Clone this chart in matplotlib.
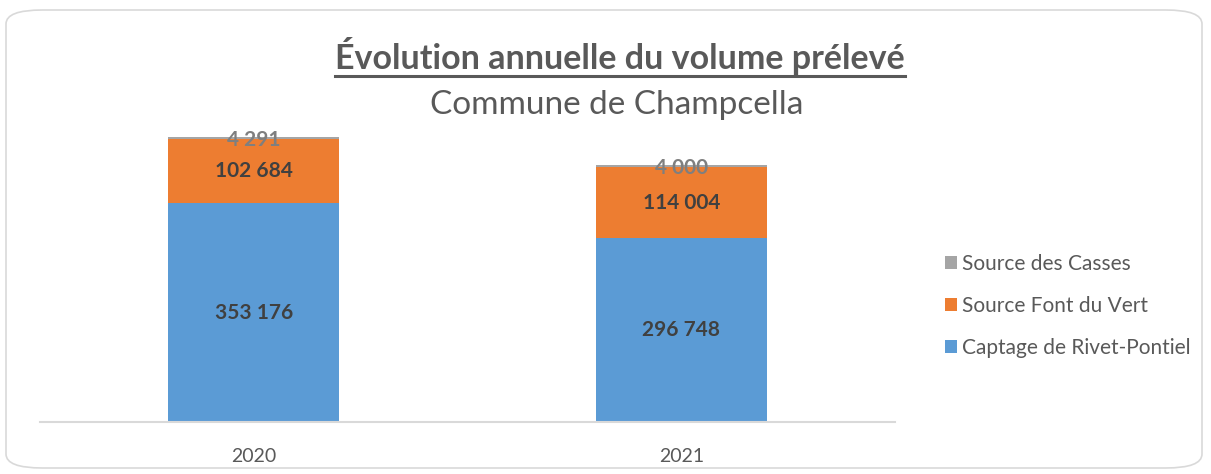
import matplotlib.pyplot as plt
from matplotlib.patches import FancyBboxPatch
from matplotlib.lines import Line2D

# Données
annees = ["2020", "2021"]
rivet_pontiel = [353176, 296748]
font_du_vert = [102684, 114004]
casses = [4291, 4000]

series = [
    ("Captage de Rivet-Pontiel", rivet_pontiel, "#5B9BD5", "#404040"),
    ("Source Font du Vert", font_du_vert, "#ED7D31", "#404040"),
    ("Source des Casses", casses, "#A5A5A5", "#7F7F7F"),
]

plt.rcParams["font.family"] = ["Lato", "DejaVu Sans"]

fig = plt.figure(figsize=(12.11, 4.74), dpi=100)

# Cadre arrondi
cadre = FancyBboxPatch(
    (6 / 1211, 6 / 474), 1196 / 1211, 458 / 474,
    boxstyle="round,pad=0,rounding_size=0.03",
    transform=fig.transFigure, facecolor="white",
    edgecolor="#D9D9D9", linewidth=1.2, mutation_aspect=474 / 1211 * 2.5,
    zorder=-1,
)
fig.patches.append(cadre)

ax = fig.add_axes([40 / 1211, 52 / 474, 855 / 1211, 310 / 474])
ax.set_facecolor("none")
ax.set_zorder(2)

x = list(range(len(annees)))
bas = [0] * len(annees)
handles = []
for nom, valeurs, couleur, couleur_txt in series:
    bars = ax.bar(x, valeurs, width=0.4, bottom=bas, color=couleur, label=nom, zorder=2)
    handles.append(bars)
    for xi, b, v in zip(x, bas, valeurs):
        # petites valeurs : étiquette légèrement décalée vers le bas comme dans Excel
        dy = -2500 if v < 10000 else 0
        ax.text(xi, b + v / 2 + dy, f"{v:,}".replace(",", " "), ha="center", va="center",
                fontsize=15, fontweight="bold", color=couleur_txt, zorder=3)
    bas = [b + v for b, v in zip(bas, valeurs)]

ax.set_xlim(-0.5, 1.5)
ax.set_ylim(0, 500000)
ax.set_xticks(x)
ax.set_xticklabels(annees, fontsize=14, color="#595959")
ax.tick_params(axis="x", length=0, pad=19)
ax.set_yticks([])
for s in ["top", "right", "left"]:
    ax.spines[s].set_visible(False)
ax.spines["bottom"].set_color("#D9D9D9")
ax.spines["bottom"].set_linewidth(1.5)

leg = fig.legend(
    handles[::-1], [s[0] for s in series][::-1],
    loc="center left", bbox_to_anchor=(926 / 1211, (474 - 306) / 474),
    frameon=False, fontsize=15, handlelength=0.6, handleheight=0.6,
    handletextpad=0.25, labelspacing=1.05, labelcolor="#595959",
)

# Titre
titre = fig.text(620 / 1211, (474 - 56) / 474, "Évolution annuelle du volume prélevé",
                 ha="center", va="center", fontsize=24.5, fontweight="bold", color="#595959")
fig.text(617 / 1211, (474 - 105) / 474, "Commune de Champcella",
         ha="center", va="center", fontsize=24, color="#595959")

fig.canvas.draw()
bb = titre.get_window_extent().transformed(fig.transFigure.inverted())
y_sl = bb.y0 - 1 / 474
fig.lines.append(Line2D([bb.x0, bb.x1], [y_sl, y_sl], transform=fig.transFigure,
                        color="#595959", linewidth=2.2))

fig.savefig("out.png", dpi=100)
